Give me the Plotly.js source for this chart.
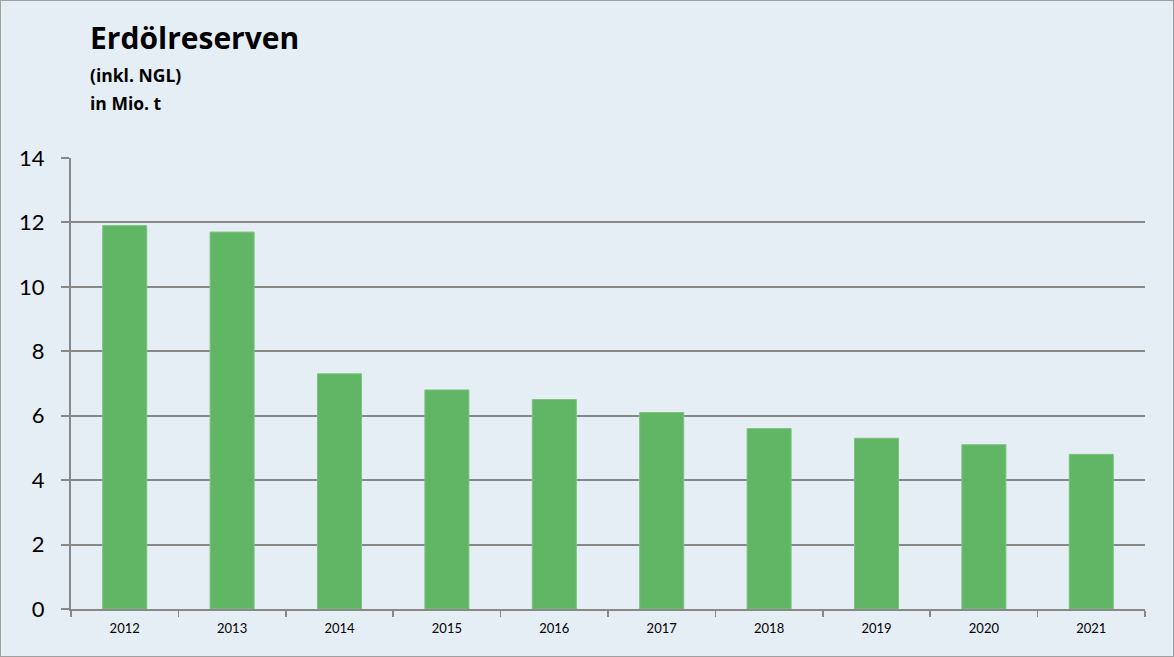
<!DOCTYPE html>
<html><head><meta charset="utf-8">
<script src="https://cdn.plot.ly/plotly-3.0.1.min.js"></script>
<style>html,body{margin:0;padding:0;background:#fff}#c{width:1172px;height:655px;border:1px solid #a0a0a0}</style>
</head><body><div id="c"></div>
<script>
const years = ["2012","2013","2014","2015","2016","2017","2018","2019","2020","2021"];
const reserves = [11.9, 11.7, 7.3, 6.8, 6.5, 6.1, 5.6, 5.3, 5.1, 4.8];
const yTicks = [0,2,4,6,8,10,12,14];
const titleText = "Erdölreserven";
const subLines = ["(inkl. NGL)", "in Mio. t"];

const font = "Lato, 'Open Sans', sans-serif";
const tfont = "'Open Sans', sans-serif";
Plotly.newPlot("c", [{
  type: "bar", x: years, y: reserves,
  marker: {color: "#60b664", line: {color: "#7cc47f", width: 1}},
  hoverinfo: "x+y"
}], {
  width: 1172, height: 655,
  paper_bgcolor: "#e6eef5", plot_bgcolor: "#e6eef5",
  margin: {l: 70, r: 28, t: 157, b: 47},
  bargap: 0.59,
  showlegend: false,
  font: {family: font, color: "#000"},
  xaxis: {type: "category", tickfont: {size: 13}, ticks: "outside", tickson: "boundaries",
          ticklen: 6, tickcolor: "#888", tickwidth: 1.5, showline: true, linecolor: "#888", linewidth: 2,
          showgrid: false, zeroline: false, ticklabelstandoff: 6},
  yaxis: {range: [0, 14], tickvals: yTicks, tickfont: {size: 22}, ticks: "outside", ticklen: 8,
          tickcolor: "#888", tickwidth: 2, showline: true, linecolor: "#888", linewidth: 2,
          gridcolor: "#888", gridwidth: 2, zeroline: false, ticklabelstandoff: 12},
  annotations: [
    {text: "<b>" + titleText + "</b>", xref: "paper", yref: "paper", x: 0, y: 1, xanchor: "left", yanchor: "top",
     xshift: -70 + 87, yshift: 157 - 14, showarrow: false, font: {size: 30, family: tfont}},
    {text: "<b>" + subLines[0] + "</b>", xref: "paper", yref: "paper", x: 0, y: 1, xanchor: "left", yanchor: "top",
     xshift: -70 + 87, yshift: 157 - 60, showarrow: false, font: {size: 17.5, family: tfont}},
    {text: "<b>" + subLines[1] + "</b>", xref: "paper", yref: "paper", x: 0, y: 1, xanchor: "left", yanchor: "top",
     xshift: -70 + 87, yshift: 157 - 88, showarrow: false, font: {size: 17.5, family: tfont}}
  ]
}, {displayModeBar: false, staticPlot: true});
</script></body></html>
